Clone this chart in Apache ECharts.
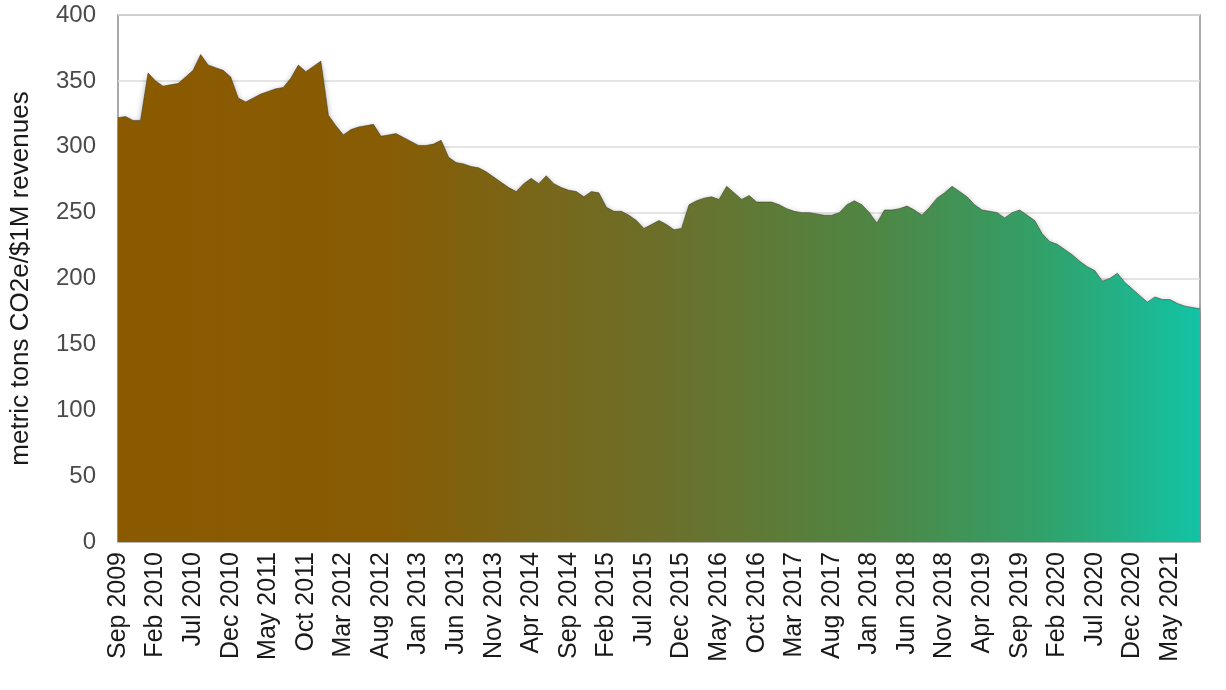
<!DOCTYPE html>
<html>
<head>
<meta charset="utf-8">
<script src="https://cdn.jsdelivr.net/npm/echarts@6/dist/echarts.min.js"></script>
<style>
html,body{margin:0;padding:0;background:#fff;}
#chart{width:1226px;height:690px;}
</style>
</head>
<body>
<div id="chart"></div>
<script>
// Monthly categories, Sep 2009 .. Sep 2021
const monthNames = ["Jan","Feb","Mar","Apr","May","Jun","Jul","Aug","Sep","Oct","Nov","Dec"];
const startYear = 2009, startMonth = 8, monthCount = 145;
const categories = [];
for (let i = 0; i < monthCount; i++) {
  const m = (startMonth + i) % 12;
  const y = startYear + Math.floor((startMonth + i) / 12);
  categories.push(monthNames[m] + " " + y);
}

// metric tons CO2e per $1M revenues
const intensity = [
  322,323,320,320,356,350,346,347,348,353,
  358,370,362,360,358,353,337,334,337,340,
  342,344,345,352,362,357,361,365,324,316,
  309,313,315,316,317,308,309,310,307,304,
  301,301,302,305,292,288,287,285,284,281,
  277,273,269,266,272,276,272,278,272,269,
  267,266,262,266,265,254,251,251,248,244,
  238,241,244,241,237,238,256,259,261,262,
  260,270,265,260,263,258,258,258,256,253,
  251,250,250,249,248,248,250,256,259,256,
  250,242,252,252,253,255,252,248,254,261,
  265,270,266,262,256,252,251,250,246,250,
  252,248,244,234,228,226,222,218,213,209,
  206,198,200,204,197,192,187,182,186,184,
  184,181,179,178,177
];

const yTicks = { min: 0, max: 400, interval: 50 };
const yTitle = "metric tons CO2e/$1M revenues";

const chart = echarts.init(document.getElementById('chart'));
chart.setOption({
  animation: false,
  backgroundColor: '#ffffff',
  grid: {
    left: 116, right: 26, top: 15, bottom: 148,
    show: true, borderColor: '#8f8f8f', borderWidth: 1.5, backgroundColor: 'transparent'
  },
  xAxis: {
    type: 'category',
    data: categories,
    boundaryGap: false,
    axisLine: { show: false },
    axisTick: { show: false },
    axisLabel: {
      interval: 4,
      rotate: 90,
      margin: 10,
      fontFamily: 'Liberation Sans',
      fontSize: 25,
      color: '#1a1a1a'
    },
    splitLine: { show: false }
  },
  yAxis: {
    type: 'value',
    min: yTicks.min, max: yTicks.max, interval: yTicks.interval,
    name: yTitle,
    nameLocation: 'middle',
    nameGap: 84,
    nameRotate: 90,
    nameTextStyle: { fontFamily: 'Liberation Sans', fontSize: 26, color: '#1a1a1a' },
    axisLine: { show: false },
    axisTick: { show: false },
    axisLabel: {
      margin: 22,
      fontFamily: 'Liberation Sans',
      fontSize: 24,
      color: '#4a4a4a'
    },
    splitLine: { show: true, lineStyle: { color: '#dcdcdc', width: 1.5 } }
  },
  series: [{
    type: 'line',
    data: intensity,
    symbol: 'none',
    smooth: false,
    lineStyle: { width: 1, color: 'rgba(60,60,40,0.55)' },
    areaStyle: {
      opacity: 1,
      color: new echarts.graphic.LinearGradient(0, 0, 1, 0, [
        { offset: 0, color: '#8b5a00' },
        { offset: 0.25, color: '#875c04' },
        { offset: 0.5, color: '#6c6f2a' },
        { offset: 0.7, color: '#4f8644' },
        { offset: 0.85, color: '#32a068' },
        { offset: 1, color: '#12c3a5' }
      ]),
      shadowColor: 'rgba(0,0,0,0.35)',
      shadowBlur: 6,
      shadowOffsetY: 2
    }
  }]
});
</script>
</body>
</html>
